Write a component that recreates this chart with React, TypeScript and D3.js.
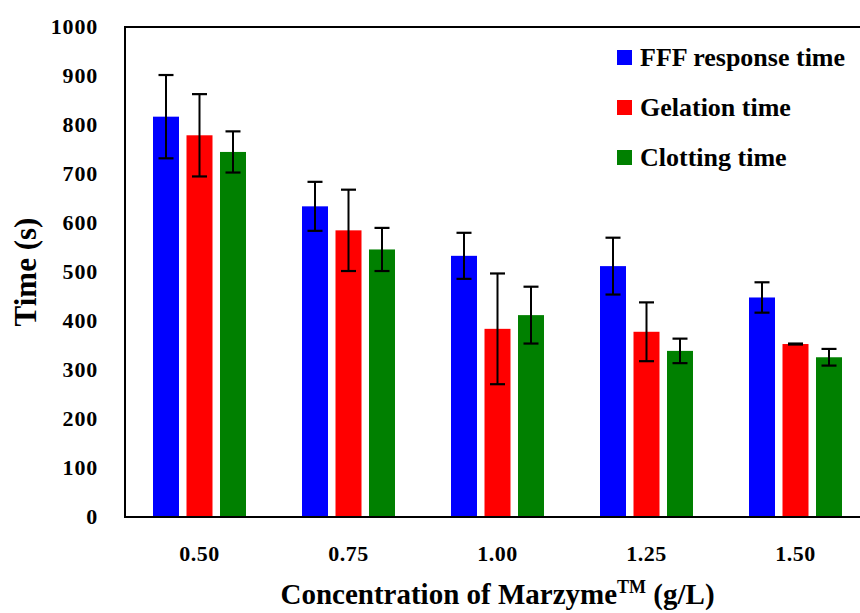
import React from "react";
import * as d3 from "d3";

const categories = ["0.50", "0.75", "1.00", "1.25", "1.50"];
const seriesNames = ["FFF response time", "Gelation time", "Clotting time"];
const seriesColors = ["#0000ff", "#ff0000", "#008000"];
const fffMean = [817, 634, 533, 512, 448];
const fffErr = [85, 50, 47, 58, 31];
const gelMean = [779, 585, 384, 378, 353];
const gelErr = [84, 83, 113, 60, 1];
const clotMean = [745, 546, 412, 339, 326];
const clotErr = [42, 44, 58, 25, 17];
const yTicks = [0, 100, 200, 300, 400, 500, 600, 700, 800, 900, 1000];

const means = [fffMean, gelMean, clotMean];
const errs = [fffErr, gelErr, clotErr];

const W = 860;
const H = 613;
const left = 125;
const right = 870;
const top = 27;
const bottom = 517;
const FONT = "'Liberation Serif', 'Times New Roman', serif";

export default function App() {
  const x = d3.scaleBand<string>().domain(categories).range([left, right]).padding(0);
  const y = d3.scaleLinear().domain([0, 1000]).range([bottom, top]);
  const bw = 26;
  const step = 33.5;
  const capW = 15;

  return (
    <svg width={W} height={H} style={{ position: "absolute", left: 0, top: 0, background: "#fff" }}>
      <rect x={0} y={0} width={W} height={H} fill="#fff" />
      {categories.map((c, i) => {
        const cx = (x(c) as number) + x.bandwidth() / 2;
        return (
          <g key={c}>
            {means.map((m, s) => {
              const bx = cx + (s - 1) * step - bw / 2;
              const v = m[i];
              const e = errs[s][i];
              const mx = bx + bw / 2;
              return (
                <g key={s}>
                  <rect x={bx} y={y(v)} width={bw} height={y(0) - y(v)} fill={seriesColors[s]} />
                  <line x1={mx} x2={mx} y1={y(v + e)} y2={y(v - e)} stroke="#000" strokeWidth={2} />
                  <line x1={mx - capW / 2} x2={mx + capW / 2} y1={y(v + e)} y2={y(v + e)} stroke="#000" strokeWidth={2.2} />
                  <line x1={mx - capW / 2} x2={mx + capW / 2} y1={y(v - e)} y2={y(v - e)} stroke="#000" strokeWidth={2.2} />
                </g>
              );
            })}
            <text x={cx} y={561} textAnchor="middle" fontFamily={FONT} fontWeight="bold" fontSize={22} letterSpacing={0.5} fill="#000">
              {c}
            </text>
          </g>
        );
      })}
      <rect x={left} y={top} width={right - left} height={bottom - top} fill="none" stroke="#000" strokeWidth={2} />
      {yTicks.map((t) => (
        <text key={t} x={98} y={y(t) + 7} textAnchor="end" fontFamily={FONT} fontWeight="bold" fontSize={22} letterSpacing={0.8} fill="#000">
          {t}
        </text>
      ))}
      <text
        transform={`translate(36, ${(top + bottom) / 2}) rotate(-90)`}
        textAnchor="middle"
        fontFamily={FONT}
        fontWeight="bold"
        fontSize={31}
        fill="#000"
      >
        Time (s)
      </text>
      <text x={(left + right) / 2} y={604} textAnchor="middle" fontFamily={FONT} fontWeight="bold" fontSize={29} fill="#000">
        Concentration of Marzyme<tspan dy={-11} fontSize={18}>TM</tspan>
        <tspan dy={11}> (g/L)</tspan>
      </text>
      {seriesNames.map((n, s) => {
        const ly = 57 + s * 50;
        return (
          <g key={n}>
            <rect x={617} y={ly - 7} width={15} height={15} fill={seriesColors[s]} />
            <text x={640} y={ly + 9} fontFamily={FONT} fontWeight="bold" fontSize={26} fill="#000">
              {n}
            </text>
          </g>
        );
      })}
    </svg>
  );
}
